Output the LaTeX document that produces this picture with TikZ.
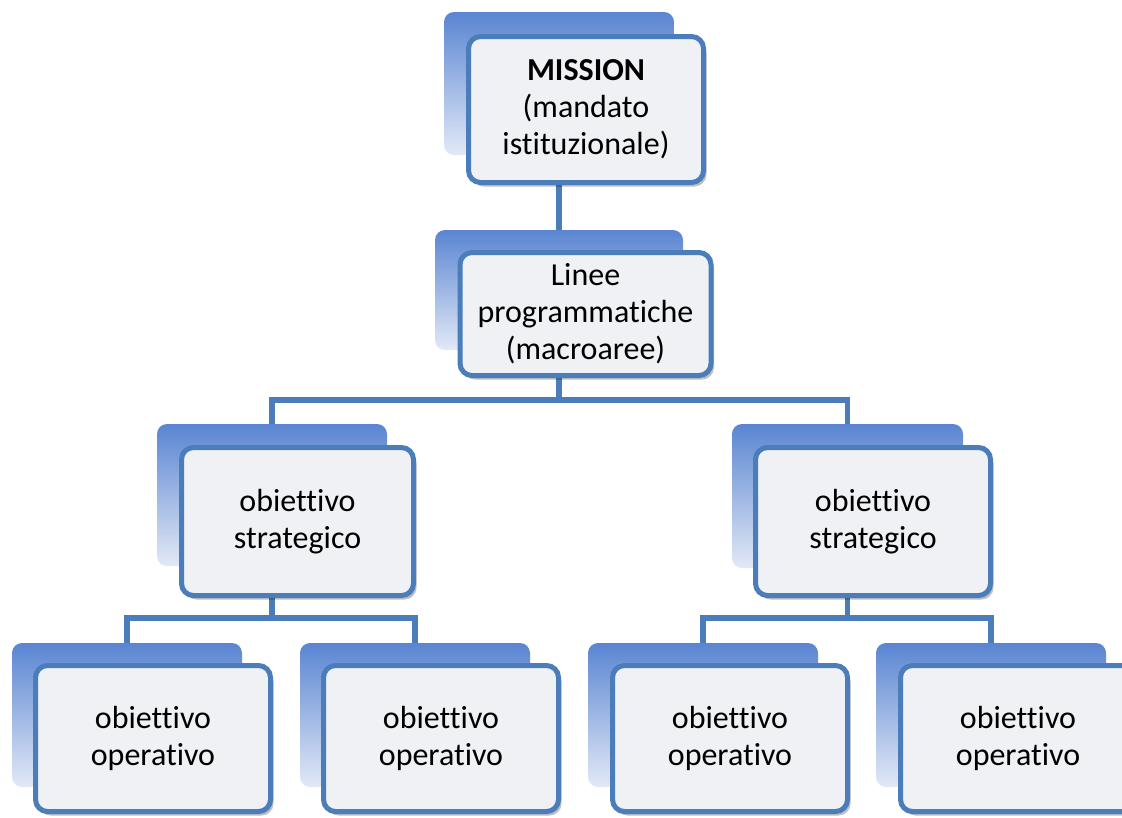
\documentclass[tikz,border=0pt]{standalone}
\usepackage{fontspec}
\setmainfont[Ligatures={NoCommon}]{Carlito}
\usetikzlibrary{shadows}
\pgfdeclarelayer{background}
\pgfsetlayers{background,main}
\definecolor{edgeblue}{HTML}{4A7DBA}
\definecolor{topblue}{HTML}{5A85D2}
\definecolor{lowblue}{HTML}{E2E9F6}
\definecolor{paper}{HTML}{F0F1F4}
\tikzset{
  backbox/.style={rectangle, rounded corners=10pt, inner sep=0pt,
    top color=topblue, bottom color=lowblue, draw=none},
  frontbox/.style={rectangle, rounded corners=12pt, draw=edgeblue, line width=5pt,
    fill=paper, inner sep=0pt, align=center,
    font=\fontsize{32}{37}\selectfont,
    drop shadow={shadow xshift=3pt, shadow yshift=-4pt, opacity=0.25, fill=black}},
  link/.style={draw=edgeblue, line width=5.5pt}
}
\begin{document}
\begin{tikzpicture}[x=1pt,y=-1pt]
\useasboundingbox (0,0) rectangle (1122,817);
\clip (0,0) rectangle (1122,817);
% back rectangles
\node[backbox, minimum width=230pt, minimum height=143pt] (mB) at (559,83.5) {};
\node[backbox, minimum width=248pt, minimum height=120pt] (lB) at (559,290) {};
\node[backbox, minimum width=230pt, minimum height=142pt] (s1B) at (272,495) {};
\node[backbox, minimum width=231pt, minimum height=144pt] (s2B) at (847.5,496) {};
\node[backbox, minimum width=230pt, minimum height=144pt] (o1B) at (127,715) {};
\node[backbox, minimum width=230pt, minimum height=144pt] (o2B) at (415,715) {};
\node[backbox, minimum width=230pt, minimum height=144pt] (o3B) at (703,715) {};
\node[backbox, minimum width=230pt, minimum height=144pt] (o4B) at (991,715) {};
% front boxes
\node[frontbox, minimum width=235pt, minimum height=146pt] (m) at (586,109.5)
  {\textbf{MISSION}\\(mandato\\istituzionale)};
\node[frontbox, minimum width=251pt, minimum height=123pt] (l) at (585.5,314)
  {Linee\\programmatiche\\(macroaree)};
\node[frontbox, minimum width=232pt, minimum height=148pt] (s1) at (297.5,521.5)
  {obiettivo\\strategico};
\node[frontbox, minimum width=235pt, minimum height=148pt] (s2) at (873,521.5)
  {obiettivo\\strategico};
\node[frontbox, minimum width=235pt, minimum height=146pt] (o1) at (153,738.5)
  {obiettivo\\operativo};
\node[frontbox, minimum width=235pt, minimum height=146pt] (o2) at (441,738.5)
  {obiettivo\\operativo};
\node[frontbox, minimum width=235pt, minimum height=146pt] (o3) at (730,738.5)
  {obiettivo\\operativo};
\node[frontbox, minimum width=235pt, minimum height=146pt] (o4) at (1018,738.5)
  {obiettivo\\operativo};
% connectors
\coordinate (j1) at (559,400);
\coordinate (j2) at (272,618);
\coordinate (j3) at (847.5,618);
\begin{pgfonlayer}{background}
\draw[link] (mB.center) -- (lB.center);
\draw[link] (lB.center) -- (j1) -| (s1B.center);
\draw[link] (j1) -| (s2B.center);
\draw[link] (s1B.center) -- (j2) -| (o1B.center);
\draw[link] (j2) -| (o2B.center);
\draw[link] (s2B.center) -- (j3) -| (o3B.center);
\draw[link] (j3) -| (o4B.center);
\end{pgfonlayer}
\end{tikzpicture}
\end{document}
